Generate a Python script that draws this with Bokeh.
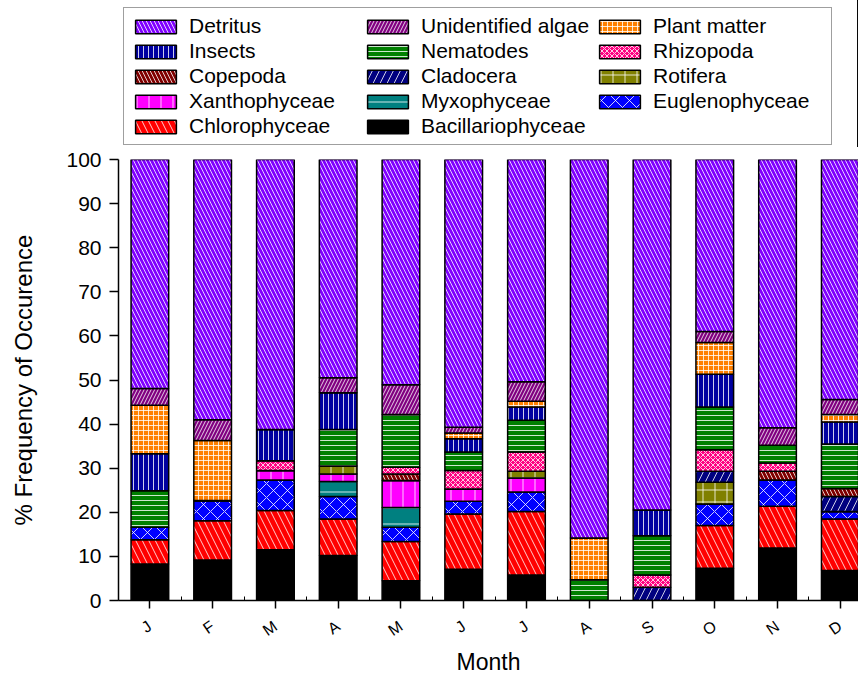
from bokeh.plotting import figure
from bokeh.layouts import column
from bokeh.models import ColumnDataSource, FixedTicker, Legend, LegendItem, Range1d
from bokeh.embed import file_html
from bokeh.resources import INLINE

# ---------------- data ----------------
months = ["J", "F", "M", "A", "M", "J", "J", "A", "S", "O", "N", "D"]
bacillariophyceae = [8.3, 9.2, 11.5, 10.2, 4.5, 7.1, 5.8, 0, 0, 7.3, 11.9, 6.8]
chlorophyceae = [5.5, 8.9, 8.9, 8.3, 8.9, 12.5, 14.4, 0, 0, 9.7, 9.5, 11.7]
euglenophyceae = [2.8, 4.6, 6.9, 5.1, 3.2, 2.9, 4.4, 0, 0, 4.9, 5.9, 1.7]
myxophyceae = [0, 0, 0, 3.4, 4.5, 0, 0, 0, 0, 0, 0, 0]
xanthophyceae = [0, 0, 2.2, 1.7, 6.1, 2.8, 3.2, 0, 0, 0, 0, 0]
rotifera = [0, 0, 0, 1.8, 0, 0, 1.5, 0, 0, 4.9, 0, 0]
cladocera = [0, 0, 0, 0, 0, 0, 0, 0, 3.0, 2.5, 0, 3.4]
copepoda = [0, 0, 0, 0, 1.5, 0, 0, 0, 0, 0, 2.0, 1.8]
rhizopoda = [0, 0, 2.2, 0, 1.5, 4.2, 4.4, 0, 2.8, 4.9, 1.9, 0]
nematodes = [8.3, 0, 0, 8.3, 12.0, 4.2, 7.2, 4.7, 8.9, 9.7, 4.0, 10.1]
insects = [8.4, 0, 7.1, 8.3, 0, 3.0, 3.0, 0, 5.8, 7.4, 0, 5.0]
plant_matter = [11.0, 13.6, 0, 0, 0, 1.3, 1.3, 9.5, 0, 7.2, 0, 1.7]
unidentified_algae = [3.8, 4.7, 0, 3.4, 6.7, 1.3, 4.4, 0, 0, 2.5, 4.0, 3.4]
detritus = [51.9, 59.2, 61.4, 51.0, 51.1, 60.7, 50.8, 85.8, 79.5, 39.0, 60.8, 54.4]
y_ticks = [0, 10, 20, 30, 40, 50, 60, 70, 80, 90, 100]

# stacking order (bottom -> top)
names = ["Bacillariophyceae", "Chlorophyceae", "Euglenophyceae", "Myxophyceae",
         "Xanthophyceae", "Rotifera", "Cladocera", "Copepoda", "Rhizopoda",
         "Nematodes", "Insects", "Plant matter", "Unidentified algae", "Detritus"]
values = [bacillariophyceae, chlorophyceae, euglenophyceae, myxophyceae,
          xanthophyceae, rotifera, cladocera, copepoda, rhizopoda,
          nematodes, insects, plant_matter, unidentified_algae, detritus]

# styles: fill colour, hatch pattern, hatch scale
styles = {
    "Bacillariophyceae": ("#000000", None, 12),
    "Chlorophyceae": ("#FF0000", "\\", 13),
    "Euglenophyceae": ("#0000FF", "x", 14),
    "Myxophyceae": ("#008080", "-", 16),
    "Xanthophyceae": ("#FF00FF", "|", 12),
    "Rotifera": ("#808000", "+", 12),
    "Cladocera": ("#000080", "/", 14),
    "Copepoda": ("#800000", "\\", 8),
    "Rhizopoda": ("#FF0080", "x", 5),
    "Nematodes": ("#008000", "-", 5),
    "Insects": ("#0000A0", "|", 5),
    "Plant matter": ("#FF8000", "+", 5),
    "Unidentified algae": ("#800080", "/", 7),
    "Detritus": ("#8000FF", "\\", 8),
}

legend_order = ["Detritus", "Unidentified algae", "Plant matter",
                "Insects", "Nematodes", "Rhizopoda",
                "Copepoda", "Cladocera", "Rotifera",
                "Xanthophyceae", "Myxophyceae", "Euglenophyceae",
                "Chlorophyceae", "Bacillariophyceae"]

FONT = "Liberation Sans"
W = 858


def style_kw(name):
    color, hatch, scale = styles[name]
    kw = dict(fill_color=color, line_color="black", line_width=1.5)
    if hatch is not None:
        kw.update(hatch_pattern=hatch, hatch_color="white", hatch_scale=scale,
                  hatch_weight=1, hatch_alpha=0.8)
    return kw


xs = list(range(1, len(months) + 1))

# stacked sources
sources = {}
bottom = [0.0] * len(months)
for name, vals in zip(names, values):
    top = [b + v for b, v in zip(bottom, vals)]
    sources[name] = ColumnDataSource(dict(x=xs, bottom=bottom, top=top))
    bottom = top

# ---------------- main chart ----------------
p = figure(width=W, height=531, output_backend="svg", toolbar_location=None,
           x_range=Range1d(0.5, 12.29), y_range=Range1d(0, 100),
           min_border_left=118, min_border_right=0, min_border_top=12,
           min_border_bottom=77)
p.outline_line_color = None
p.xgrid.visible = False
p.ygrid.visible = False

for name in names:
    p.vbar(x="x", bottom="bottom", top="top", width=0.6, source=sources[name],
           **style_kw(name))

p.xaxis.ticker = FixedTicker(ticks=xs, minor_ticks=[x - 0.5 for x in xs])
p.xaxis.major_label_overrides = {x: m for x, m in zip(xs, months)}
p.xaxis.major_label_orientation = 0.6
p.xaxis.major_label_text_font = FONT
p.xaxis.major_label_text_font_size = "16px"
p.xaxis.major_tick_out = 8
p.xaxis.major_tick_in = 0
p.xaxis.minor_tick_in = 4
p.xaxis.minor_tick_out = 0
p.xaxis.major_label_standoff = 16
p.xaxis.axis_label = "Month"
p.xaxis.axis_label_text_font = FONT
p.xaxis.axis_label_text_font_size = "23px"
p.xaxis.axis_label_text_font_style = "normal"
p.xaxis.axis_label_standoff = 0
p.xaxis.axis_line_width = 1.5
p.xaxis.major_tick_line_width = 1.5

p.yaxis.ticker = FixedTicker(ticks=y_ticks, minor_ticks=[])
p.yaxis.major_label_text_font = FONT
p.yaxis.major_label_text_font_size = "21px"
p.yaxis.major_tick_out = 9
p.yaxis.major_tick_in = 0
p.yaxis.minor_tick_out = 0
p.yaxis.major_label_standoff = 8
p.yaxis.axis_label = "% Frequency of Occurence"
p.yaxis.axis_label_text_font = FONT
p.yaxis.axis_label_text_font_size = "24px"
p.yaxis.axis_label_text_font_style = "normal"
p.yaxis.axis_label_standoff = 26
p.yaxis.axis_line_width = 1.5
p.yaxis.major_tick_line_width = 1.5

for ax in (p.xaxis[0], p.yaxis[0]):
    ax.axis_line_color = "black"
    ax.major_tick_line_color = "black"
    ax.minor_tick_line_color = "black"
    ax.major_label_text_color = "black"
    ax.axis_label_text_color = "black"

# ---------------- legend strip ----------------
# same bars, drawn off-view (x range far from data) only to feed legend glyphs
lf = figure(width=W, height=147, output_backend="svg", toolbar_location=None,
            x_range=Range1d(-20, -19), y_range=Range1d(0, 1), min_border=0,
            x_axis_location=None, y_axis_location=None)
lf.xgrid.visible = False
lf.ygrid.visible = False
lf.outline_line_color = None

items = []
for name in legend_order:
    r = lf.vbar(x="x", bottom="bottom", top="top", width=0.6,
                source=sources[name], **style_kw(name))
    items.append(LegendItem(label=name, renderers=[r]))

legend = Legend(items=items, location=(5, 2), orientation="horizontal",
                ncols=3, label_text_font=FONT, label_text_font_size="21px",
                glyph_width=51, glyph_height=17, label_standoff=8, spacing=1,
                label_width=172, padding=6, margin=0,
                border_line_color="#404040", border_line_width=1.5,
                background_fill_color="white", background_fill_alpha=1.0,
                label_text_color="black")
lf.add_layout(legend, "center")

layout = column(lf, p, spacing=0)
open("out.html", "w").write(file_html(layout, INLINE))
